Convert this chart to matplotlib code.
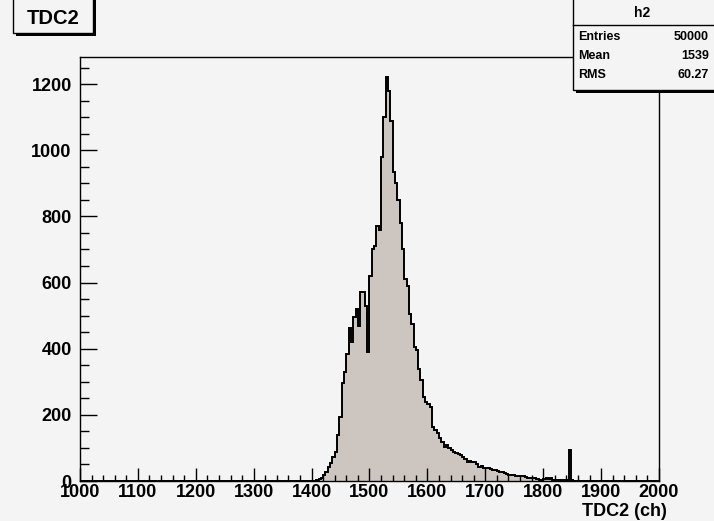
import numpy as np
import matplotlib
matplotlib.use('Agg')
import matplotlib.pyplot as plt
from matplotlib.patches import Rectangle
from matplotlib.ticker import MultipleLocator

# TDC2 spectrum, 4-channel bins starting at channel 1400
bin_width = 4
first_bin = 1400
tdc2_counts = [
    0, 0, 2, 5, 10, 18, 28, 42, 55, 72,            # 1400-1439
    88, 140, 195, 295, 330, 385, 462, 420, 495, 520,  # 1440-1479
    470, 570, 572, 530, 390, 620, 700, 710, 770, 760,  # 1480-1519
    980, 1100, 1221, 1180, 1090, 935, 900, 850, 780, 700,  # 1520-1559
    610, 590, 505, 475, 405, 395, 340, 305, 255, 240,  # 1560-1599
    232, 224, 164, 155, 145, 130, 118, 103, 108, 100,  # 1600-1639
    93, 88, 86, 82, 78, 72, 66, 58, 60, 57,         # 1640-1679
    58, 50, 43, 44, 40, 38, 38, 36, 33, 33,         # 1680-1719
    30, 27, 27, 25, 22, 18, 18, 17, 15, 15,         # 1720-1759
    14, 15, 12, 10, 9, 9, 8, 5, 4, 3,               # 1760-1799
    5, 8, 6, 8, 4, 3, 3, 2, 3, 2,                   # 1800-1839
    2, 93, 2, 1, 0,                                 # 1840-1859
]
hist_name = 'h2'
hist_title = 'TDC2'
x_title = 'TDC2 (ch)'
n_entries = '50000'
mean_val = '1539'
rms_val = '60.27'

edges = np.arange(1000, 2000 + bin_width, bin_width)
counts = np.zeros(len(edges) - 1)
i0 = (first_bin - 1000) // bin_width
counts[i0:i0 + len(tdc2_counts)] = tdc2_counts

W, H = 714, 521
bg = '#f4f4f4'
fill = '#cdc6c0'
plt.rcParams['font.family'] = ['Liberation Sans', 'DejaVu Sans']
plt.rcParams['font.weight'] = 'bold'


def fx(px):
    return px / W


def fy(py):
    return 1 - py / H


fig = plt.figure(figsize=(W / 100, H / 100), dpi=100, facecolor=bg)
ax = fig.add_axes([fx(80), fy(481), (659 - 80) / W, (481 - 57) / H], facecolor=bg)

ax.stairs(counts, edges, fill=True, color=fill, linewidth=0)
ax.stairs(counts, edges, color='black', linewidth=1.4)

ax.set_xlim(1000, 2000)
ax.set_ylim(0, 1.05 * counts.max())

ax.xaxis.set_major_locator(MultipleLocator(100))
ax.xaxis.set_minor_locator(MultipleLocator(20))
ax.yaxis.set_major_locator(MultipleLocator(200))
ax.yaxis.set_minor_locator(MultipleLocator(50))
ax.tick_params(which='both', direction='in', top=False, right=False, width=1.0)
ax.tick_params(axis='x', which='major', length=9.4, pad=2, labelsize=13)
ax.tick_params(axis='x', which='minor', length=4.6)
ax.tick_params(axis='y', which='major', length=12.5, pad=6, labelsize=13)
ax.tick_params(axis='y', which='minor', length=6.3)
for lab in ax.get_xticklabels() + ax.get_yticklabels():
    lab.set_fontweight('bold')
for s in ax.spines.values():
    s.set_linewidth(1.0)

fig.text(fx(667), fy(511), x_title, ha='right', va='center', fontsize=13, fontweight='bold')

# title box with shadow
fig.add_artist(Rectangle((fx(16), fy(36)), fx(80), fy(0) - fy(36) + 0.02,
                         transform=fig.transFigure, facecolor='black', edgecolor='none', clip_on=False))
fig.add_artist(Rectangle((fx(13), fy(33)), fx(80), fy(0) - fy(33) + 0.02,
                         transform=fig.transFigure, facecolor=bg, edgecolor='black', linewidth=1.0, clip_on=False))
fig.text(fx(53), fy(19), hist_title, ha='center', va='center', fontsize=14.5, fontweight='bold')

# statistics box with shadow
fig.add_artist(Rectangle((fx(576), fy(93)), fx(150), fy(0) - fy(93) + 0.02,
                         transform=fig.transFigure, facecolor='black', edgecolor='none', clip_on=False))
fig.add_artist(Rectangle((fx(573), fy(90)), fx(150), fy(0) - fy(90) + 0.02,
                         transform=fig.transFigure, facecolor=bg, edgecolor='black', linewidth=1.0, clip_on=False))
fig.add_artist(plt.Line2D([fx(573), fx(714)], [fy(25), fy(25)], transform=fig.transFigure,
                          color='black', linewidth=1.0))
fig.text(fx(642), fy(13), hist_name, ha='center', va='center', fontsize=10, fontweight='bold')
rows = [('Entries', n_entries), ('Mean', mean_val), ('RMS', rms_val)]
for k, (name, val) in enumerate(rows):
    y = fy(37 + 19 * k)
    fig.text(fx(578), y, name, ha='left', va='center', fontsize=9, fontweight='bold')
    fig.text(fx(709), y, val, ha='right', va='center', fontsize=9, fontweight='bold')

fig.savefig('out.png', dpi=100, facecolor=bg)
